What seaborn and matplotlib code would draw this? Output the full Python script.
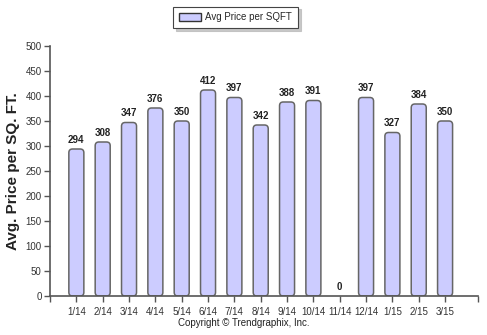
import matplotlib
matplotlib.use("Agg")
import matplotlib.pyplot as plt
import seaborn as sns
import pandas as pd
from matplotlib.patches import FancyBboxPatch, Patch

months = ["1/14", "2/14", "3/14", "4/14", "5/14", "6/14", "7/14", "8/14",
          "9/14", "10/14", "11/14", "12/14", "1/15", "2/15", "3/15"]
prices = [294, 308, 347, 376, 350, 412, 397, 342, 388, 391, 0, 397, 327, 384, 350]
y_ticks = [0, 50, 100, 150, 200, 250, 300, 350, 400, 450, 500]

df = pd.DataFrame({"month": months, "price": prices})

sns.set_style("white")
plt.rcParams["font.family"] = ["Liberation Sans", "DejaVu Sans"]

fig = plt.figure(figsize=(4.87, 3.35), dpi=100)
ax = fig.add_axes([0.1027, 0.1164, 0.8788, 0.7463])

bar_color = "#CCCCFF"
edge_color = "#666666"
sns.barplot(data=df, x="month", y="price", ax=ax, color=bar_color,
            width=0.57, saturation=1, edgecolor=edge_color, linewidth=1.1)

xmin, xmax = -1, 15.25
ax.set_xlim(xmin, xmax)
ax.set_ylim(0, 500)

fig.canvas.draw()
bbox = ax.get_window_extent()
px_x = bbox.width / (xmax - xmin)
px_y = bbox.height / 500
aspect = px_x / px_y

for p in list(ax.patches):
    x, y, w, h = p.get_x(), p.get_y(), p.get_width(), p.get_height()
    p.set_visible(False)
    if h <= 0:
        continue
    fb = FancyBboxPatch((x, y), w, h,
                        boxstyle="round,pad=0,rounding_size=0.14",
                        mutation_aspect=aspect,
                        facecolor=bar_color, edgecolor=edge_color,
                        linewidth=1.1, zorder=2)
    ax.add_patch(fb)

for i, v in enumerate(prices):
    ax.text(i, v + 8, f"{v}", ha="center", va="bottom",
            fontsize=7, fontweight="bold", color="#222222")

ax.set_yticks(y_ticks)
ax.set_yticklabels([str(t) for t in y_ticks])
ax.set_xticks([xmin, xmax], minor=True)
ax.tick_params(axis="both", which="both", direction="out", length=4,
               width=1, color="#555555", labelsize=7, labelcolor="#333333", pad=2)
ax.tick_params(axis="x", which="major", pad=4)
ax.tick_params(left=True, bottom=True)
ax.tick_params(axis="x", which="minor", bottom=True, length=4)
ax.set_xlabel("")
ax.set_ylabel("Avg. Price per SQ. FT.", fontsize=11, fontweight="bold",
              color="#222222", labelpad=4)

for s in ["top", "right"]:
    ax.spines[s].set_visible(False)
for s in ["left", "bottom"]:
    ax.spines[s].set_color("#555555")
    ax.spines[s].set_linewidth(1.2)
ax.grid(False)

handle = Patch(facecolor=bar_color, edgecolor="#333333", linewidth=1)
leg = fig.legend([handle], ["Avg Price per SQFT"], loc="upper center",
                 bbox_to_anchor=(0.484, 0.995), fontsize=7, frameon=True,
                 fancybox=False, shadow={"color": "#bbbbbb", "alpha": 0.8},
                 handlelength=2.2, handleheight=0.9, borderpad=0.6,
                 handletextpad=0.5)
leg.get_frame().set_edgecolor("#444444")
leg.get_frame().set_linewidth(0.8)

fig.text(0.5, 0.035, "Copyright \u00a9 Trendgraphix, Inc.", ha="center",
         va="center", fontsize=7, color="#222222")

fig.savefig("out.png", dpi=100)
